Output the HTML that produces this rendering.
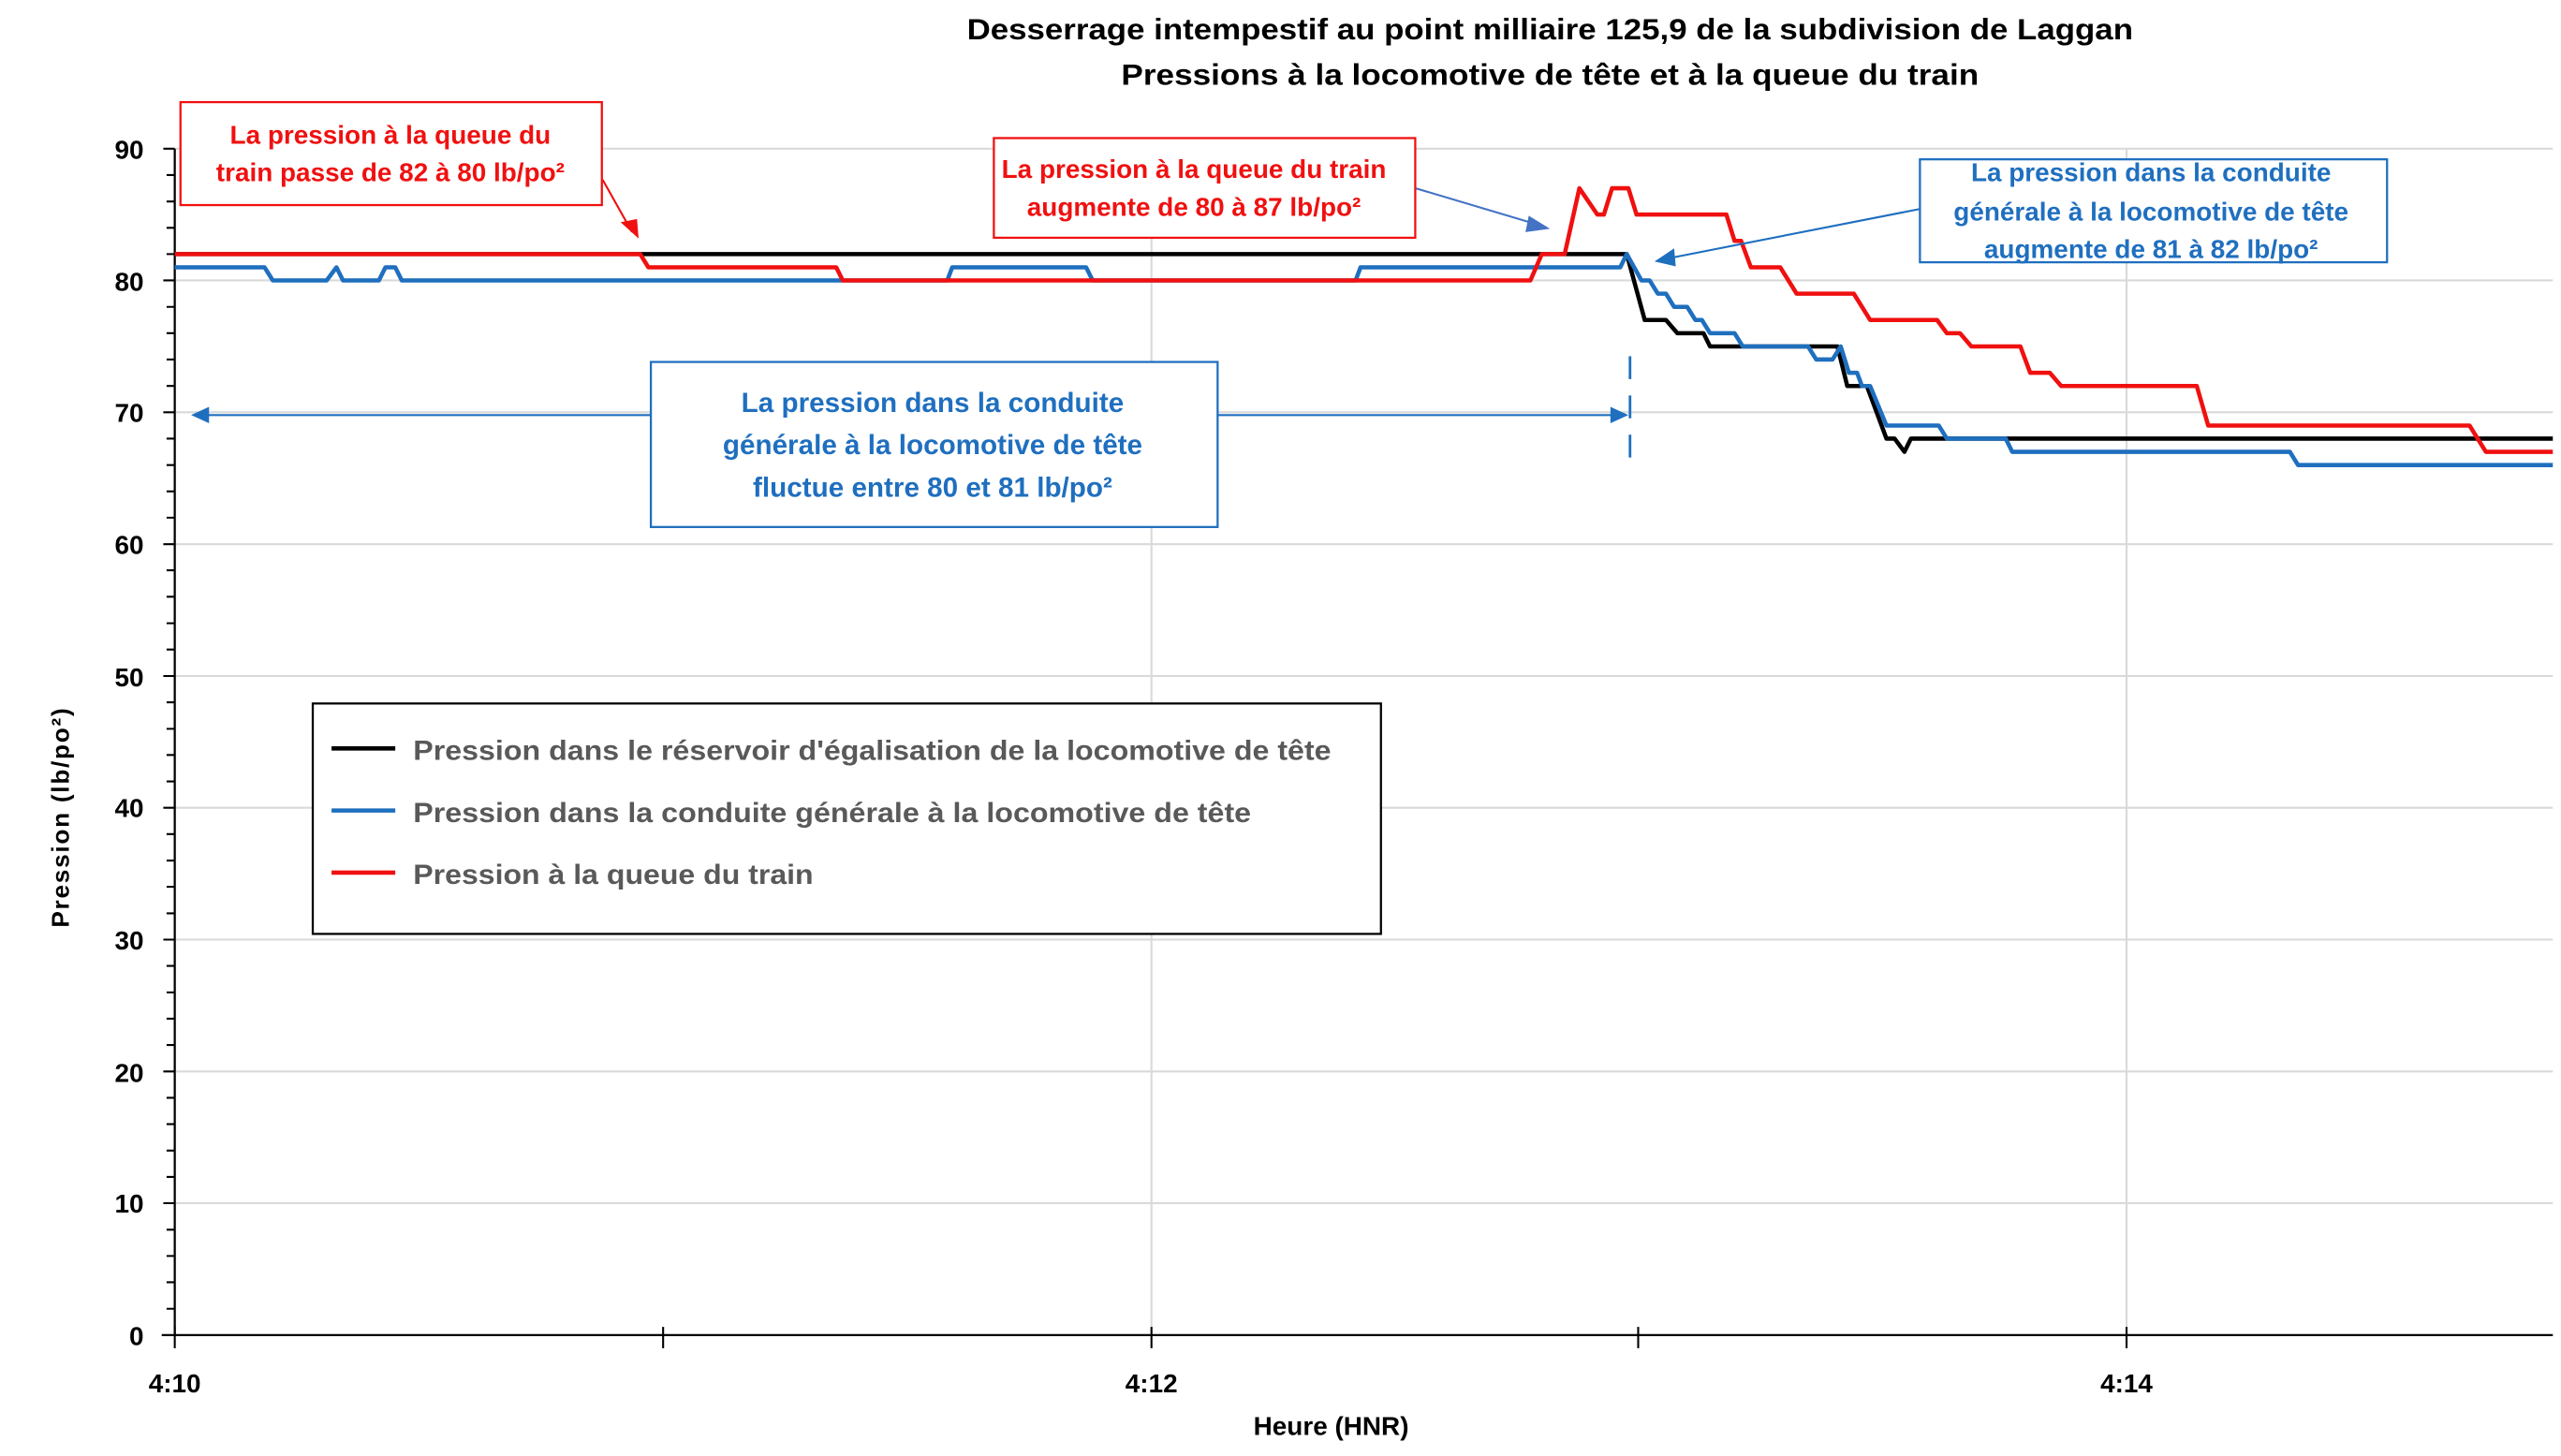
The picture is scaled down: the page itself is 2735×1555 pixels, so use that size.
<!DOCTYPE html>
<html><head><meta charset="utf-8"><style>
html,body{margin:0;padding:0;background:#fff;}
svg{display:block;}
text{font-family:"Liberation Sans Narrow","Liberation Sans",sans-serif;font-weight:bold;}
</style></head><body>
<svg width="2735" height="1555" viewBox="0 0 1568 891" preserveAspectRatio="none" xmlns="http://www.w3.org/2000/svg">
<rect width="1568" height="891" fill="#fff"/>
<text x="949" y="24" font-size="18" text-anchor="middle" textLength="714" lengthAdjust="spacingAndGlyphs" fill="#000">Desserrage intempestif au point milliaire 125,9 de la subdivision de Laggan</text>
<text x="949" y="52" font-size="18" text-anchor="middle" textLength="525" lengthAdjust="spacingAndGlyphs" fill="#000">Pressions à la locomotive de tête et à la queue du train</text>
<g stroke="#d9d9d9" stroke-width="1.2">
<line x1="107" y1="91" x2="1563" y2="91"/><line x1="107" y1="171.6" x2="1563" y2="171.6"/><line x1="107" y1="252.3" x2="1563" y2="252.3"/><line x1="107" y1="333" x2="1563" y2="333"/><line x1="107" y1="413.7" x2="1563" y2="413.7"/><line x1="107" y1="494.3" x2="1563" y2="494.3"/><line x1="107" y1="575" x2="1563" y2="575"/><line x1="107" y1="655.7" x2="1563" y2="655.7"/><line x1="107" y1="736.3" x2="1563" y2="736.3"/>
<line x1="705" y1="91" x2="705" y2="817"/><line x1="1302" y1="91" x2="1302" y2="817"/>
</g>
<g stroke="#000" stroke-width="1.3">
<line x1="107" y1="91" x2="107" y2="817"/><line x1="99" y1="817" x2="1563" y2="817"/>
</g>
<g stroke="#000" stroke-width="1" id="yt"></g>
<g font-size="16" text-anchor="end" fill="#000">
<text x="88" y="97">90</text><text x="88" y="178">80</text><text x="88" y="258">70</text><text x="88" y="339">60</text><text x="88" y="420">50</text><text x="88" y="500">40</text><text x="88" y="581">30</text><text x="88" y="662">20</text><text x="88" y="742">10</text><text x="88" y="823">0</text>
</g>
<g font-size="16" text-anchor="middle" fill="#000">
<text x="107" y="852">4:10</text><text x="705" y="852">4:12</text><text x="1302" y="852">4:14</text>
<text x="815" y="878" font-size="16">Heure (HNR)</text>
</g>
<text transform="translate(42,500) rotate(-90)" font-size="15" text-anchor="middle" fill="#000" style="font-family:'Liberation Sans',sans-serif" letter-spacing="1">Pression (lb/po²)</text>
<g fill="none" stroke-width="2.6" stroke-linejoin="round">
<polyline stroke="#000" points="107,155.5 996,155.5 1007,195.8 1020,195.8 1027,203.9 1043,203.9 1047,212 1125,212 1131,236.2 1143,236.2 1155,268.4 1160,268.4 1166,276.5 1170,268.4 1563,268.4"/>
<polyline stroke="#1f6fbf" points="107,163.6 162,163.6 167,171.6 200,171.6 206,163.6 210,171.6 232,171.6 236,163.6 242,163.6 246,171.6 580,171.6 583,163.6 665,163.6 669,171.6 830,171.6 833,163.6 992,163.6 996,155.5 1005,171.6 1010,171.6 1015,179.7 1020,179.7 1025,187.8 1033,187.8 1038,195.8 1042,195.8 1047,203.9 1062,203.9 1067,212 1107,212 1112,220 1122,220 1127,212 1132,228.1 1137,228.1 1140,236.2 1145,236.2 1155,260.4 1167,260.4 1187,260.4 1192,268.4 1228,268.4 1232,276.5 1402,276.5 1407,284.6 1563,284.6"/>
<polyline stroke="#f01010" points="107,155.5 392,155.5 397,163.6 512,163.6 516,171.6 937,171.6 944,155.5 958,155.5 967,115.2 978,131.3 982,131.3 987,115.2 997,115.2 1002,131.3 1057,131.3 1062,147.4 1066,147.4 1072,163.6 1090,163.6 1100,179.7 1135,179.7 1145,195.8 1186,195.8 1192,203.9 1200,203.9 1207,212 1237,212 1243,228.1 1255,228.1 1262,236.2 1345,236.2 1352,260.4 1512,260.4 1522,276.5 1563,276.5"/>
</g>
<!-- arrows -->
<g stroke-width="1.2">
<line x1="369" y1="110" x2="387" y2="142" stroke="#f01010"/>
<polygon points="391,146 380,136 390,134" fill="#f01010"/>
<line x1="866" y1="115" x2="940" y2="137" stroke="#4472c4"/>
<polygon points="949,140 936,132 934,142" fill="#4472c4"/>
<line x1="1175" y1="128" x2="1022" y2="158" stroke="#1f6fbf"/>
<polygon points="1013,160 1025,152 1026,163" fill="#1f6fbf"/>
<line x1="126" y1="254" x2="398" y2="254" stroke="#1f6fbf"/>
<line x1="745" y1="254" x2="988" y2="254" stroke="#1f6fbf"/>
<polygon points="117,254 128,249 128,259" fill="#1f6fbf"/>
<polygon points="997,254 986,249 986,259" fill="#1f6fbf"/>
<line x1="998" y1="218" x2="998" y2="286" stroke="#1f6fbf" stroke-width="1.6" stroke-dasharray="14,10"/>
</g>
<!-- boxes -->
<rect x="110.5" y="62.5" width="258" height="63" fill="#fff" stroke="#f01010" stroke-width="1.3"/>
<text x="239" y="88" font-size="16" text-anchor="middle" fill="#f01010">La pression à la queue du</text>
<text x="239" y="111" font-size="16" text-anchor="middle" fill="#f01010">train passe de 82 à 80 lb/po²</text>
<rect x="608.5" y="84.5" width="258" height="61" fill="#fff" stroke="#f01010" stroke-width="1.3"/>
<text x="731" y="109" font-size="16" text-anchor="middle" fill="#f01010">La pression à la queue du train</text>
<text x="731" y="132" font-size="16" text-anchor="middle" fill="#f01010">augmente de 80 à 87 lb/po²</text>
<rect x="1175.5" y="97.5" width="286" height="63" fill="#fff" stroke="#1f6fbf" stroke-width="1.3"/>
<text x="1317" y="111" font-size="16" text-anchor="middle" fill="#1f6fbf">La pression dans la conduite</text>
<text x="1317" y="135" font-size="16" text-anchor="middle" fill="#1f6fbf">générale à la locomotive de tête</text>
<text x="1317" y="158" font-size="16" text-anchor="middle" fill="#1f6fbf">augmente de 81 à 82 lb/po²</text>
<rect x="398.5" y="221.5" width="347" height="101" fill="#fff" stroke="#1f6fbf" stroke-width="1.3"/>
<text x="571" y="252" font-size="17" text-anchor="middle" fill="#1f6fbf">La pression dans la conduite</text>
<text x="571" y="278" font-size="17" text-anchor="middle" fill="#1f6fbf">générale à la locomotive de tête</text>
<text x="571" y="304" font-size="17" text-anchor="middle" fill="#1f6fbf">fluctue entre 80 et 81 lb/po²</text>
<!-- legend -->
<rect x="191.5" y="430.5" width="654" height="141" fill="#fff" stroke="#000" stroke-width="1.3"/>
<line x1="203" y1="458" x2="242" y2="458" stroke="#000" stroke-width="2.6"/>
<line x1="203" y1="496" x2="242" y2="496" stroke="#1f6fbf" stroke-width="2.6"/>
<line x1="203" y1="534" x2="242" y2="534" stroke="#f01010" stroke-width="2.6"/>
<g font-size="17" fill="#595959">
<text x="253" y="465" textLength="562" lengthAdjust="spacingAndGlyphs">Pression dans le réservoir d'égalisation de la locomotive de tête</text>
<text x="253" y="503" textLength="513" lengthAdjust="spacingAndGlyphs">Pression dans la conduite générale à la locomotive de tête</text>
<text x="253" y="541" textLength="245" lengthAdjust="spacingAndGlyphs">Pression à la queue du train</text>
</g>
<g stroke="#000" stroke-width="1.2">
<path d="M100,91h7M102,107.1h5M102,123.3h5M102,139.4h5M102,155.5h5M100,171.6h7M102,187.8h5M102,203.9h5M102,220h5M102,236.2h5M100,252.3h7M102,268.4h5M102,284.6h5M102,300.7h5M102,316.8h5M100,333h7M102,349h5M102,365.2h5M102,381.4h5M102,397.5h5M100,413.7h7M102,429.8h5M102,446h5M102,462h5M102,478.2h5M100,494.3h7M102,510.4h5M102,526.6h5M102,542.7h5M102,558.9h5M100,575h7M102,591.1h5M102,607.3h5M102,623.4h5M102,639.5h5M100,655.7h7M102,671.8h5M102,687.9h5M102,704.1h5M102,720.2h5M100,736.3h7M102,752.5h5M102,768.6h5M102,784.7h5M102,800.9h5"/>
<path d="M107,812v13M406,812v13M705,812v13M1003,812v13M1302,812v13"/>
</g>
</svg>
</body></html>
